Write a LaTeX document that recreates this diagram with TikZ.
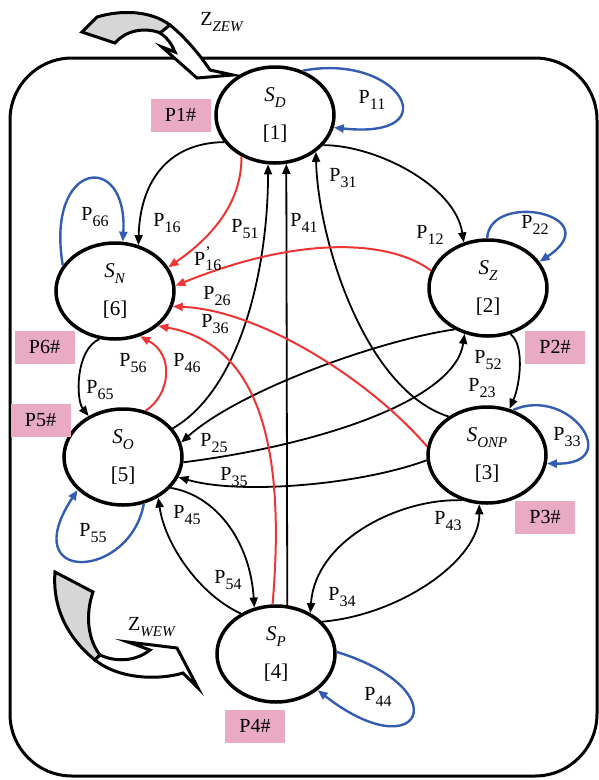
\documentclass[tikz,border=0pt]{standalone}
\usepackage{fontspec}
\setmainfont{Liberation Serif}
\usetikzlibrary{arrows.meta,shapes.geometric}
\definecolor{loopblue}{RGB}{52,92,176}
\definecolor{redline}{RGB}{238,52,52}
\definecolor{tagpink}{RGB}{233,170,196}
\definecolor{zgray}{RGB}{214,214,214}
\newcommand\sbx[1]{\raisebox{-0.3em}{\fontsize{16}{16}\selectfont #1}}
\newcommand\ssx[1]{\raisebox{-0.3em}{\fontsize{15}{15}\selectfont #1}}
\newcommand\Pl[1]{P\sbx{#1}}
\newcommand\St[2]{\textit{#1}\ssx{\textit{#2}}}
\begin{document}
\begin{tikzpicture}[x=1pt,y=-1pt,
  state/.style={ellipse,draw,line width=3.5pt,inner sep=0pt,
    minimum width=118pt,minimum height=96pt,align=center,
    font=\fontsize{21}{23}\selectfont},
  tag/.style={fill=tagpink,inner sep=0pt,minimum width=60pt,minimum height=33pt,
    font=\fontsize{20}{22}\selectfont},
  lbl/.style={inner sep=0pt,font=\fontsize{20}{22}\selectfont},
  tip/.style={-{Triangle[length=10pt,width=8pt]}},
  trans/.style={tip,draw=black,line width=1.8pt},
  redtr/.style={tip,draw=redline,color=redline,line width=2pt},
  selfloop/.style={tip,draw=loopblue,color=loopblue,line width=2.4pt},
  zband/.style={draw=black,line width=3pt,line join=miter}]
\useasboundingbox (0,0) rectangle (599,780);

% outer frame
\draw[line width=3pt,rounded corners=62pt] (10,58) rectangle (597,776);

% states
\node[state] (D) at (275,115) {\St{S}{D}\\[15pt][1]};
\node[state] (Z) at (488,288) {\St{S}{Z}\\[15pt][2]};
\node[state] (T) at (487,455) {\St{S}{ONP}\\[15pt][3]};
\node[state] (P) at (276,654) {\St{S}{P}\\[15pt][4]};
\node[state] (O) at (123,457) {\St{S}{O}\\[15pt][5]};
\node[state] (N) at (115,291) {\St{S}{N}\\[15pt][6]};

% pink tags
\node[tag] (t1) at (180.5,115) {P1\#};
\node[tag] (t2) at (555,347) {P2\#};
\node[tag] (t3) at (545,517) {P3\#};
\node[tag] (t4) at (255,726) {P4\#};
\node[tag] (t5) at (40.5,420) {P5\#};
\node[tag] (t6) at (44.5,347) {P6\#};

% self loops
\draw[selfloop] (D.58) .. controls (400,52) and (450,140) .. (D.348);
\draw[selfloop] (Z.91) .. controls (490,190) and (610,215) .. (Z.27);
\draw[selfloop] (T.60) .. controls (570,385) and (625,465) .. (T.352);
\draw[selfloop] (P.2) .. controls (460,690) and (420,770) .. (P.319);
\draw[selfloop] (O.294) .. controls (130,580) and (15,585) .. (O.216);
\draw[selfloop] (N.154) .. controls (45,160) and (128,150) .. (N.81);

% black transitions
\draw[trans] (D.208) .. controls (165,143) and (140,185) .. (N.63);
\draw[trans] (D.328) .. controls (375,145) and (455,185) .. (Z.118);
\draw[trans] (T.135) .. controls (365,390) and (318,240) .. (D.318);
\draw[trans] (P.77) -- (D.283);
\draw[trans] (O.30) .. controls (240,390) and (268,270) .. (D.262);
\draw[trans] (N.252) .. controls (75,350) and (76,400) .. (O.130);
\draw[trans] (Z.231) .. controls (380,340) and (240,390) .. (O.14);
\draw[trans] (O.355) .. controls (320,445) and (455,400) .. (Z.243);
\draw[trans] (Z.296) .. controls (525,345) and (520,385) .. (T.64);
\draw[trans] (T.185) .. controls (360,485) and (240,495) .. (O.340);
\draw[trans] (P.131) .. controls (200,595) and (165,545) .. (O.311);
\draw[trans] (O.327) .. controls (215,495) and (250,540) .. (P.115);
\draw[trans] (T.241) .. controls (400,498) and (315,540) .. (P.50);
\draw[trans] (P.35) .. controls (400,615) and (480,560) .. (T.261);

% red transitions into S_N
\draw[redtr] (D.231) .. controls (242,200) and (215,235) .. (N.24);
\draw[redtr] (Z.163) .. controls (390,240) and (300,235) .. (N.5);
\draw[redtr] (T.172) .. controls (370,380) and (260,310) .. (N.345);
\draw[redtr] (P.94) .. controls (285,460) and (265,345) .. (N.321);
\draw[redtr] (O.64) .. controls (170,395) and (175,355) .. (N.299);

% probability labels
\node[lbl] (l11) at (372,100) {\Pl{11}};
\node[lbl] (l22) at (535,225) {\Pl{22}};
\node[lbl] (l33) at (567,437) {\Pl{33}};
\node[lbl] (l44) at (378,697) {\Pl{44}};
\node[lbl] (l55) at (93,533) {\Pl{55}};
\node[lbl] (l66) at (95,217) {\Pl{66}};
\node[lbl] (l16) at (167,223) {\Pl{16}};
\node[lbl] (l51) at (245,229) {\Pl{51}};
\node[lbl] (l41) at (304,223) {\Pl{41}};
\node[lbl] (l31) at (343,178) {\Pl{31}};
\node[lbl] (l12) at (430,235) {\Pl{12}};
\node[lbl] (l16b) at (208,259) {P$^{\mbox{\fontsize{16}{16}\selectfont ’}}_{\mbox{\fontsize{16}{16}\selectfont 16}}$};
\node[lbl] (l26) at (217,296) {\Pl{26}};
\node[lbl] (l36) at (215,324) {\Pl{36}};
\node[lbl] (l56) at (133,363) {\Pl{56}};
\node[lbl] (l46) at (187,363) {\Pl{46}};
\node[lbl] (l65) at (100,390) {\Pl{65}};
\node[lbl] (l25) at (214,443) {\Pl{25}};
\node[lbl] (l35) at (234,477) {\Pl{35}};
\node[lbl] (l52) at (488,360) {\Pl{52}};
\node[lbl] (l23) at (482,388) {\Pl{23}};
\node[lbl] (l45) at (187,515) {\Pl{45}};
\node[lbl] (l54) at (228,580) {\Pl{54}};
\node[lbl] (l34) at (342,597) {\Pl{34}};
\node[lbl] (l43) at (448,521) {\Pl{43}};

% curved arrow at the top: grey underside, then the white band and its head
\draw[zband,fill=zgray] (82,32) -- (97,17) .. controls (120,10) and (150,10) .. (170,25)
  -- (165,35) .. controls (150,27) and (128,28) .. (115,43) -- cycle;
\draw[zband,fill=white] (170,25) .. controls (185,37) and (200,55) .. (210,70) -- (233,75)
  -- (197,78) -- (162,47) -- (175,52) .. controls (172,45) and (168,38) .. (160,33) -- cycle;
\node[lbl] (zz) at (222,22) {Z\ssx{\textit{ZEW}}};

% curved arrow at the bottom
\draw[zband,fill=zgray] (55,572) -- (93,592) .. controls (85,615) and (88,640) .. (100,655)
  -- (95,660) .. controls (70,640) and (52,610) .. cycle;
\draw[zband,fill=white] (100,655) .. controls (115,662) and (135,662) .. (150,650)
  -- (128,642) -- (177,648) -- (198,688) -- (183,673) .. controls (160,680) and (120,680) .. (95,660) -- cycle;
\node[lbl] (zw) at (152,627) {Z\ssx{\textit{WEW}}};
\end{tikzpicture}
\end{document}
